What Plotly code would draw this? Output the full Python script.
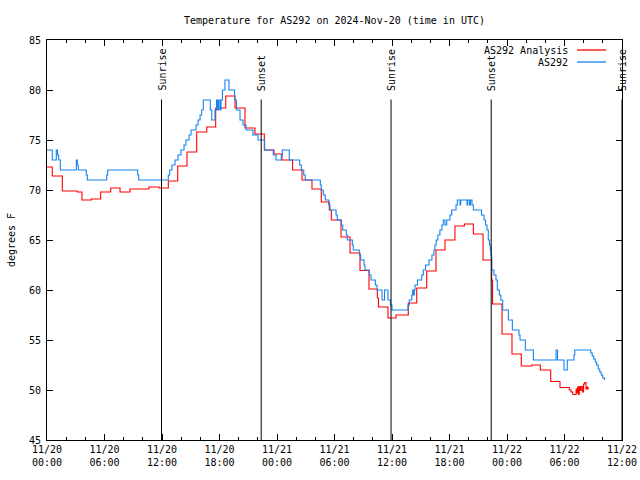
import pandas as pd
import plotly.graph_objects as go

START = pd.Timestamp("2024-11-20 00:00")

# Analysis series (red): hours since 2024-11-20 00:00 UTC, degrees F
analysis_hours = [0.00, 0.55, 1.60, 3.16, 3.65, 4.62, 5.60, 6.65, 7.62, 8.66, 10.64, 11.69,
                  12.66, 13.64, 14.61, 15.62, 16.67, 17.60, 18.65, 19.62, 20.66, 21.70,
                  22.68, 23.69, 24.52, 25.62, 26.61, 27.65, 28.62, 29.46, 29.67, 30.68,
                  31.62, 32.66, 33.60, 34.47, 34.59, 35.58, 36.42, 37.70, 38.58, 39.62,
                  40.59, 41.53, 42.57, 43.55, 44.49, 45.50, 46.40, 46.49, 47.48, 48.52,
                  49.49, 50.58, 51.48, 52.56, 53.53, 54.50, 54.68, 54.86, 55.03, 55.21,
                  55.27, 55.37, 55.48, 55.54, 55.64, 55.75, 55.89, 55.99, 56.10, 56.24,
                  56.34, 56.44, 56.56]
analysis_temp = [72.3, 71.4, 69.9, 69.8, 69.0, 69.1, 69.8, 70.2, 69.8, 70.1, 70.3, 70.2,
                 70.9, 72.4, 73.8, 75.8, 76.3, 78.2, 79.4, 78.2, 76.2, 75.6,
                 74.0, 73.6, 73.0, 72.0, 71.0, 70.1, 68.8, 68.0, 67.0, 65.3,
                 63.7, 61.95, 60.1, 59.2, 58.3, 57.2, 57.5, 58.7, 60.2, 61.9,
                 64.0, 65.0, 66.4, 66.6, 65.6, 63.0, 61.0, 58.6, 55.6, 53.6,
                 52.4, 52.5, 52.0, 50.85, 50.25, 50.0, 49.8, 49.55, 49.55, 50.1,
                 49.7, 50.3, 49.55, 50.35, 49.95, 50.35, 49.8, 50.6, 50.75, 50.1,
                 50.3, 50.1, 50.1]

# Observed series (blue)
obs_hours = [0.00, 0.55, 0.97, 1.10, 1.22, 1.39, 3.06, 3.16, 3.27, 4.10, 4.21, 6.23, 6.33,
             9.46, 9.57, 12.66, 12.80, 13.04, 13.36, 13.67, 13.98, 14.30, 14.50, 14.82,
             15.03, 15.55, 15.76, 15.97, 16.14, 16.31, 17.04, 17.19, 17.53, 17.69, 17.79,
             17.90, 18.05, 18.16, 18.31, 18.57, 18.99, 19.57, 19.77, 20.14, 20.45, 20.77,
             21.49, 22.02, 22.71, 23.61, 23.90, 24.45, 24.55, 25.28, 26.37, 26.54, 26.79,
             26.95, 28.52, 28.62, 28.83, 29.04, 29.40, 29.53, 30.16, 30.29, 30.71, 30.86,
             31.23, 31.34, 31.86, 31.96, 32.59, 32.73, 33.08, 33.18, 33.63, 33.81, 34.26,
             34.44, 34.96, 35.22, 35.58, 35.84, 36.00, 37.67, 37.81, 38.06, 38.16, 38.25,
             38.33, 38.40, 38.66, 39.10, 39.27, 39.50, 39.86, 40.17, 40.38, 40.48, 40.61,
             40.79, 41.00, 41.21, 41.35, 41.53, 41.71, 42.05, 42.23, 42.68, 42.82, 43.10,
             43.17, 43.83, 43.90, 44.09, 44.19, 44.35, 44.49, 45.34, 45.60, 45.76, 45.91,
             46.05, 46.17, 46.26, 46.33, 46.40, 46.64, 46.85, 46.99, 47.20, 47.35, 47.55,
             48.14, 48.56, 49.25, 49.36, 49.91, 50.75, 53.12, 53.27, 53.95, 54.29, 54.99,
             55.07, 56.74, 56.89, 57.05, 57.21, 57.36, 57.52, 57.68, 57.83, 57.99, 58.18]
obs_temp = [74.0, 73.0, 74.0, 73.5, 73.0, 72.0, 73.0, 72.5, 72.0, 71.5, 71.0, 71.5, 72.0,
            71.5, 71.0, 71.5, 72.0, 72.5, 73.0, 73.5, 74.0, 74.5, 75.0, 75.5,
            76.0, 76.5, 77.0, 77.5, 78.0, 79.0, 78.0, 77.0, 78.0, 79.0, 78.0,
            79.0, 78.0, 79.0, 80.0, 81.0, 80.0, 79.0, 78.0, 77.0, 76.5, 76.0,
            75.5, 75.0, 74.0, 73.5, 73.0, 73.5, 74.0, 73.0, 72.5, 72.0, 71.5,
            71.0, 70.5, 70.0, 69.5, 69.0, 68.5, 68.0, 67.5, 67.0, 66.5, 66.0,
            65.5, 65.0, 64.5, 64.0, 63.5, 63.0, 62.5, 62.0, 61.5, 61.0, 60.5,
            60.0, 59.0, 60.0, 59.0, 58.5, 58.0, 58.5, 59.0, 59.5, 60.0, 59.5,
            60.0, 60.5, 61.0, 61.5, 62.0, 62.5, 63.0, 63.5, 64.0, 64.5, 65.0,
            65.5, 66.0, 66.5, 67.0, 66.5, 67.0, 67.5, 68.0, 68.5, 69.0, 68.5,
            69.0, 68.5, 69.0, 68.5, 69.0, 68.5, 68.0, 67.5, 67.0, 66.5, 66.0,
            65.0, 64.5, 64.0, 63.5, 62.0, 61.5, 61.0, 60.0, 59.5, 59.0, 58.0,
            57.0, 56.0, 55.5, 55.0, 54.0, 53.0, 54.0, 53.0, 52.0, 53.0, 53.5,
            54.0, 53.7, 53.4, 53.1, 52.8, 52.5, 52.1, 51.8, 51.5, 51.2, 51.0]

# Sun events
sun_labels = ["Sunrise", "Sunset", "Sunrise", "Sunset", "Sunrise"]
sun_times = ["2024-11-20 11:57", "2024-11-20 22:21", "2024-11-21 11:54",
             "2024-11-21 22:21", "2024-11-22 12:00"]

series_names = ["AS292 Analysis", "AS292"]
series_colors = ["#ff0000", "#1584f0"]

FONT = "DejaVu Sans Mono"


def to_time(hours):
    return START + pd.to_timedelta(hours, unit="h")


fig = go.Figure()
fig.add_trace(go.Scatter(x=to_time(analysis_hours), y=analysis_temp, mode="lines",
                         line=dict(color=series_colors[0], width=1.1, shape="hv"),
                         name=series_names[0], showlegend=False))
fig.add_trace(go.Scatter(x=to_time(obs_hours), y=obs_temp, mode="lines",
                         line=dict(color=series_colors[1], width=1.1, shape="hv"),
                         name=series_names[1], showlegend=False))

shapes = []
annotations = []
for lab, t in zip(sun_labels, sun_times):
    shapes.append(dict(type="line", xref="x", yref="y", x0=t, x1=t, y0=45, y1=79.05,
                       line=dict(color="black", width=1)))
    annotations.append(dict(x=t, y=79.7, xref="x", yref="y", text=lab, showarrow=False,
                            textangle=-90, xanchor="center", yanchor="bottom",
                            font=dict(family=FONT, size=10, color="black")))

# manual legend (text left of sample, like gnuplot)
legend_y = [0.975, 0.945]
for name, col, ly in zip(series_names, series_colors, legend_y):
    annotations.append(dict(x=0.9096, y=ly, xref="paper", yref="paper", text=name,
                            showarrow=False, xanchor="right", yanchor="middle",
                            font=dict(family=FONT, size=10, color="black")))
    shapes.append(dict(type="line", xref="paper", yref="paper", x0=0.9217, x1=0.9722,
                       y0=ly, y1=ly, line=dict(color=col, width=1.3)))

fig.update_layout(
    width=640, height=480,
    margin=dict(l=47, r=18, t=40, b=40, autoexpand=False),
    paper_bgcolor="white", plot_bgcolor="white",
    font=dict(family=FONT, size=10, color="black"),
    title=dict(text="Temperature for AS292 on 2024-Nov-20 (time in UTC)",
               x=0.5, xref="paper", xanchor="center", y=1 - 20 / 480, yanchor="middle",
               font=dict(family=FONT, size=10, color="black")),
    shapes=shapes, annotations=annotations, showlegend=False,
)
fig.update_xaxes(type="date", range=["2024-11-20 00:00", "2024-11-22 12:00"],
                 tick0="2024-11-20 00:00", dtick=6 * 3600 * 1000, automargin=False,
                 tickformat="%m/%d<br>%H:%M", ticks="inside", ticklen=6, tickcolor="black",
                 minor=dict(dtick=2 * 3600 * 1000, ticks="inside", ticklen=3, tickcolor="black"),
                 showline=True, linecolor="black", linewidth=1, mirror="allticks",
                 showgrid=False, zeroline=False,
                 tickfont=dict(family=FONT, size=10, color="black"))
fig.update_yaxes(range=[45, 85], dtick=5, tick0=45, ticks="inside", ticklen=6,
                 tickcolor="black", showline=True, linecolor="black", linewidth=1,
                 mirror="allticks", showgrid=False, zeroline=False, automargin=False,
                 ticklabelstandoff=3,
                 title=dict(text="degrees F", standoff=11,
                            font=dict(family=FONT, size=10, color="black")),
                 tickfont=dict(family=FONT, size=10, color="black"))

fig.write_html("out.html", config={"displayModeBar": False},
               post_script="document.body.style.margin='0';document.body.style.overflow='hidden';")
